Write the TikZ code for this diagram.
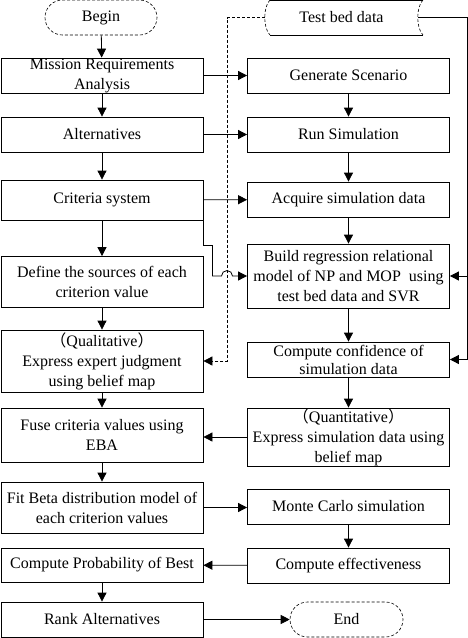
\documentclass[tikz,border=0pt]{standalone}
\usepackage{fontspec}
\setmainfont{Liberation Serif}
\newfontfamily\cjk{Noto Sans CJK SC}
\usetikzlibrary{arrows.meta,shapes.misc}

\begin{document}
\begin{tikzpicture}[x=1pt,y=-1pt,
    font=\fontsize{16}{20}\selectfont,
    box/.style={draw,line width=0.8pt,minimum width=202,inner sep=0pt,align=center},
    term/.style={draw,line width=0.6pt,densely dashed,rounded rectangle,minimum height=35,inner sep=0pt},
    arr/.style={line width=0.8pt,-{Triangle[length=9pt,width=9pt]}},
    dasharr/.style={line width=0.8pt,dash pattern=on 3pt off 2pt,-{Triangle[length=9pt,width=9pt]}}]
    \useasboundingbox (0,0) rectangle (468,638);

    \node[term,minimum width=112] (begin) at (101,17.5) {Begin};
    \node[box,minimum height=35] (mission) at (102,75.5) {Mission Requirements\\Analysis};
    \node[box,minimum height=35] (alt) at (102,134.5) {Alternatives};
    \node[box,minimum height=40] (crit) at (102,200) {Criteria system};
    \node[box,minimum height=51] (def) at (102,282) {Define the sources of each\\criterion value};
    \node[box,minimum height=62] (qual) at (102,361) {{\cjk （}Qualitative{\cjk ）}\\Express expert judgment\\using belief map};
    \node[box,minimum height=54] (fuse) at (102,435) {Fuse criteria values using\\EBA};
    \node[box,minimum height=51] (fit) at (102,507.5) {Fit Beta distribution model of\\each criterion values};
    \node[box,minimum height=34] (prob) at (102,565) {Compute Probability of Best};
    \node[box,minimum height=35] (rank) at (102,619.5) {Rank Alternatives};

    \node[minimum width=153,minimum height=35,inner sep=0pt] (testbed) at (341.5,17.5) {Test bed data};
    \draw[line width=0.6pt,densely dashed] (270,0) .. controls (263,7) and (263,28) .. (270,35);
    \draw[line width=0.6pt,densely dashed] (423,0) .. controls (416,7) and (416,28) .. (423,35);
    \draw[line width=0.6pt] (270,0.3) -- (423,0.3);
    \draw[line width=0.6pt] (270,35) -- (423,35);

    \node[box,minimum height=35] (gen) at (348.5,75.5) {Generate Scenario};
    \node[box,minimum height=35] (run) at (348.5,134.5) {Run Simulation};
    \node[box,minimum height=35] (acq) at (348.5,199.5) {Acquire simulation data};
    \node[box,minimum height=64] (build) at (348.5,276) {Build regression relational\\model of NP and MOP~ using\\test bed data and SVR};
    \node[box,minimum height=35,font=\fontsize{16}{18}\selectfont] (conf) at (348.5,359.5) {Compute confidence of\\simulation data};
    \node[box,minimum height=58] (quant) at (348.5,437) {{\cjk （}Quantitative{\cjk ）}\\Express simulation data using\\belief map};
    \node[box,minimum height=35] (mc) at (348.5,506.5) {Monte Carlo simulation};
    \node[box,minimum height=35] (eff) at (348.5,565.5) {Compute effectiveness};
    \node[term,minimum width=113] (end) at (346.5,619.5) {End};

    \coordinate (rail) at (467,17.5);
    \coordinate (dashtop) at (227,17.5);
    \coordinate (hopL) at (221.5,276);

    \draw[arr] (begin) -- (mission);
    \draw[arr] (mission) -- (alt);
    \draw[arr] (alt) -- (crit);
    \draw[arr] (crit) -- (def);
    \draw[arr] (def) -- (qual);
    \draw[arr] (qual) -- (fuse);
    \draw[arr] (fuse) -- (fit);
    \draw[arr] (prob) -- (rank);

    \draw[arr] (gen) -- (run);
    \draw[arr] (run) -- (acq);
    \draw[arr] (acq) -- (build);
    \draw[arr] (build) -- (conf);
    \draw[arr] (conf) -- (quant);
    \draw[arr] (mc) -- (eff);

    \draw[arr] (mission) -- (gen);
    \draw[arr] (alt) -- (run);
    \draw[arr] (crit) -- (acq);
    \draw[arr] (crit.south east) -- ++(0,25) -- ++(9,0) |- (hopL) arc[start angle=180,end angle=0,radius=5.5pt] -- (build.west);
    \draw[arr] (quant.west) -- (fuse.east |- quant.west);
    \draw[arr] (fit.east) -- (mc.west |- fit.east);
    \draw[arr] (eff) -- (prob);
    \draw[arr] (rank) -- (end);

    \draw[arr] (testbed.east) -- (rail) |- (build.east);
    \draw[arr] (rail) |- (conf.east);
    \draw[dasharr] (testbed.west) -- (dashtop) |- (qual.east);
\end{tikzpicture}
\end{document}
